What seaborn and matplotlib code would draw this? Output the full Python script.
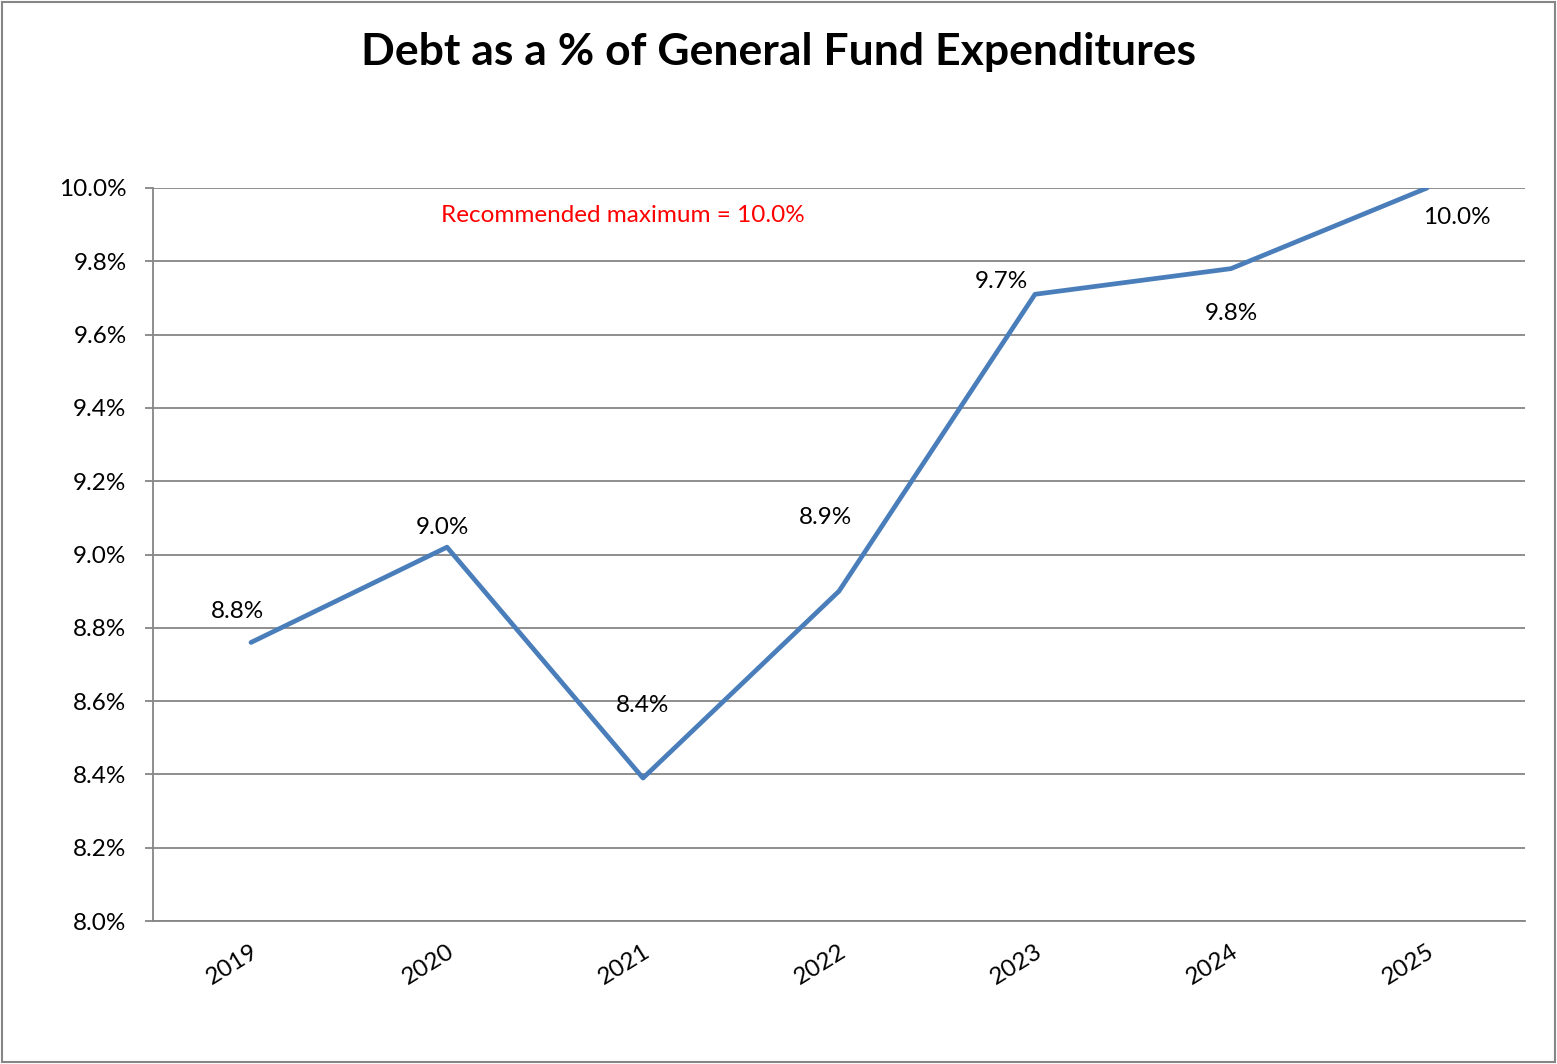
import matplotlib
matplotlib.use("Agg")
import matplotlib.pyplot as plt
import matplotlib.patches as mpatches
from matplotlib.ticker import FixedLocator, FuncFormatter
import seaborn as sns
import pandas as pd

years = ["2019", "2020", "2021", "2022", "2023", "2024", "2025"]
debt_pct = [8.76, 9.02, 8.39, 8.90, 9.71, 9.78, 10.00]
point_labels = ["8.8%", "9.0%", "8.4%", "8.9%", "9.7%", "9.8%", "10.0%"]
# label offsets from each point, in pixels (dx, dy)
label_offsets = [(-14, 31), (-5, 20), (0, 73), (-14, 74), (-34, 13), (0, -45), (30, -29)]

sns.set_theme(style="white")
plt.rcParams["font.family"] = ["Lato", "DejaVu Sans"]

grey = "#868686"
line_blue = "#4A7EBB"
fs = 17.5

df = pd.DataFrame({"year": years, "pct": debt_pct})

fig = plt.figure(figsize=(15.57, 10.64), dpi=100)
ax = fig.add_axes([153 / 1557, 1 - 921 / 1064, (1525 - 153) / 1557, (921 - 188) / 1064])

sns.lineplot(data=df, x="year", y="pct", ax=ax, color=line_blue, linewidth=3.4,
             sort=False, solid_capstyle="round")

ax.set_xlim(-0.5, len(years) - 0.5)
ax.set_ylim(8.0, 10.0)
ax.set_xlabel("")
ax.set_ylabel("")

yt = [8.0 + 0.2 * i for i in range(11)]
ax.yaxis.set_major_locator(FixedLocator(yt))
ax.yaxis.set_major_formatter(FuncFormatter(lambda v, p: f"{v:.1f}%"))
ax.grid(axis="y", color=grey, linewidth=1.3)
ax.set_axisbelow(True)

ax.xaxis.set_major_locator(FixedLocator(range(len(years))))
ax.set_xticklabels(years)
ax.xaxis.set_minor_locator(FixedLocator([i - 0.5 for i in range(len(years) + 1)]))

ax.tick_params(axis="x", which="major", length=0, pad=14, labelsize=fs, labelcolor="black")
ax.tick_params(axis="x", which="minor", length=6, width=1.3, color=grey, direction="out")
ax.tick_params(axis="y", which="major", length=6, width=1.3, color=grey, direction="out",
               labelsize=fs, labelcolor="black", pad=13, left=True)
for lbl in ax.get_xticklabels():
    lbl.set_rotation(32)
    lbl.set_ha("right")
    lbl.set_rotation_mode("anchor")

for s in ["top", "right"]:
    ax.spines[s].set_visible(False)
for s in ["left", "bottom"]:
    ax.spines[s].set_color(grey)
    ax.spines[s].set_linewidth(1.3)

for i, (v, txt, off) in enumerate(zip(debt_pct, point_labels, label_offsets)):
    ax.annotate(txt, xy=(i, v), xytext=off, textcoords="offset pixels",
                ha="center", va="center", fontsize=fs, color="black")

ax.text(0.3426, 0.963, "Recommended maximum = 10.0%", transform=ax.transAxes,
        ha="center", va="center", fontsize=fs, color="#FF0000")

fig.text(0.5, 1 - 52 / 1064, "Debt as a % of General Fund Expenditures",
         ha="center", va="center", fontsize=32, fontweight="bold", color="black")

fig.patches.append(mpatches.Rectangle((0.001, 0.002), 0.998, 0.996, transform=fig.transFigure,
                                      fill=False, edgecolor=grey, linewidth=1.5))

fig.savefig("out.png", dpi=100, facecolor="white")
